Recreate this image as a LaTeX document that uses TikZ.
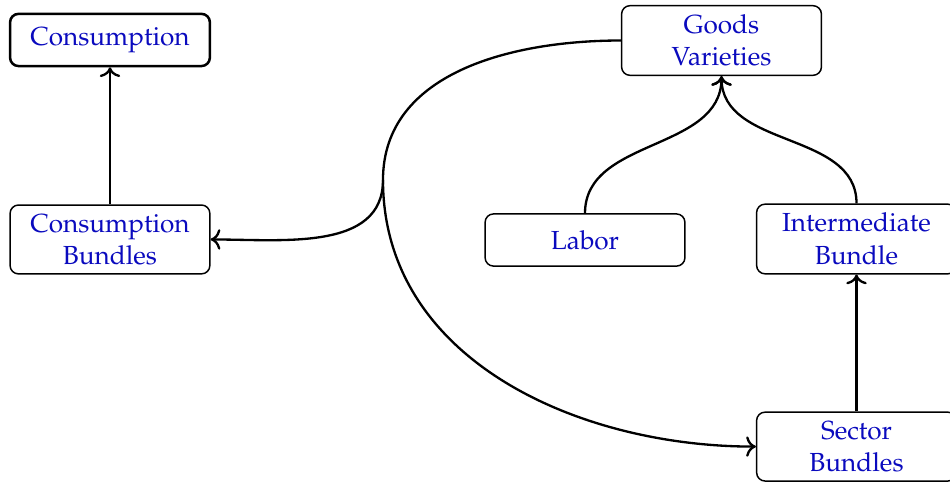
\documentclass[tikz,border=0pt]{standalone}
\IfFileExists{mathpazo.sty}{\usepackage[T1]{fontenc}\usepackage{mathpazo}}{%
  \IfFileExists{palatino.sty}{\usepackage[T1]{fontenc}\usepackage{palatino}}{}}
\usetikzlibrary{arrows.meta, positioning, calc}
\definecolor{nodeblue}{RGB}{10,10,190}
\tikzset{
  box/.style={draw, rounded corners=4pt, line width=0.7pt, minimum width=3.33cm,
    minimum height=0.87cm, align=center, text=nodeblue, inner sep=4.2pt,
    font=\fontsize{12.4}{15.4}\selectfont},
  flow/.style={-{To[scale=1.15]}, line width=1.1pt}
}

\begin{document}
\begin{tikzpicture}
\clip (0,0) rectangle (15.833,8.033);
% household side
\node[box, line width=1.2pt] (cons) at (1.833,7.367) {Consumption};
\node[box] (cbund) at (1.833,4.042) {Consumption\\Bundles};
% production side
\node[box] (goods) at (12.025,7.358) {Goods\\Varieties};
\node[box] (labor) at (9.75,4.033) {Labor};
\node[box] (inter) at (14.275,4.05) {Intermediate\\Bundle};
\node[box] (sector) at (14.275,0.59) {Sector\\Bundles};
\coordinate (split) at (6.383,5.033);

\draw[flow] (cbund.north) -- (cons.south);
\draw[line width=1.1pt] (goods.west) to[out=180,in=90] (split);
\draw[flow] (split) to[out=-90,in=0] (cbund.east);
\draw[flow] (split) to[out=-90,in=180] (sector.west);
\draw[flow] (labor.north) to[out=90,in=-90] (goods.south);
\draw[flow] (inter.north) to[out=90,in=-90] (goods.south);
\draw[flow] (sector.north) -- (inter.south);
\end{tikzpicture}
\end{document}
